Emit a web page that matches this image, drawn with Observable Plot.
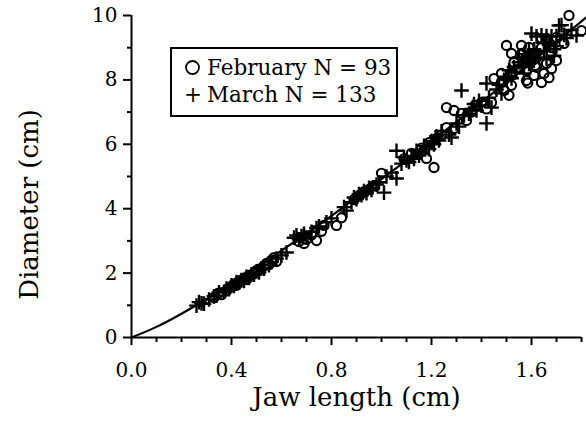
<!DOCTYPE html>
<html>
<head>
<meta charset="utf-8">
<script src="https://cdn.jsdelivr.net/npm/d3@7"></script>
<script src="https://cdn.jsdelivr.net/npm/@observablehq/plot@0.6"></script>
<style>
  html, body { margin: 0; padding: 0; background: #fff; }
  #wrap { position: relative; width: 586px; height: 422px; font-family: "DejaVu Serif", serif; }
  #legend { position: absolute; left: 170px; top: 47px; width: 224px; height: 61px; border: 2px solid #000; background: #fff; font-size: 21.5px; line-height: 27px; padding-top: 5px; box-sizing: content-box; }
  #legend .row { white-space: nowrap; padding-left: 12px; }
  #legend .sym { display: inline-block; width: 23px; }
  #legend svg { vertical-align: -1px; }
</style>
</head>
<body>
<div id="wrap"><div id="legend"></div></div>
<script>
// Curve
const curveX = [0, 0.1, 0.2, 0.3, 0.4, 0.5, 0.6, 0.7, 0.8, 0.9, 1.0, 1.1, 1.2, 1.3, 1.4, 1.5, 1.6, 1.7, 1.8, 1.82];
const curveY = [0, 0.33, 0.74, 1.19, 1.67, 2.18, 2.70, 3.23, 3.78, 4.35, 4.92, 5.50, 6.10, 6.70, 7.31, 7.93, 8.55, 9.18, 9.82, 9.95];

// February (circles), N = 93
const febX = [0.33,0.35,0.36,0.38,0.40,0.41,0.42,0.43,0.45,0.46,0.47,0.49,0.50,0.51,0.53,0.54,0.55,0.57,0.58,0.56,
  0.67,0.69,0.70,0.72,0.74,0.76,0.77,0.82,0.84,
  0.89,0.91,0.93,0.95,0.97,1.00,
  1.09,1.12,1.14,1.16,1.18,1.21,1.19,1.22,1.24,
  1.26,1.29,1.32,1.34,1.29,1.26,1.38,1.40,1.44,1.42,1.36,
  1.45,1.48,1.48,1.52,1.51,1.52,1.49,1.50,1.52,1.53,1.52,
  1.56,1.59,1.56,1.58,1.57,1.60,1.58,1.61,1.58,1.62,1.585,
  1.64,1.66,1.70,1.64,1.68,1.73,1.68,1.70,1.68,1.66,1.67,1.64,1.65,1.615,1.75,1.80];
const febY = [1.24,1.38,1.33,1.45,1.58,1.66,1.62,1.75,1.84,1.80,1.93,2.00,2.08,2.12,2.22,2.30,2.27,2.48,2.36,2.40,
  2.98,2.92,3.05,3.18,3.01,3.30,3.48,3.48,3.72,
  4.28,4.40,4.52,4.60,4.72,5.10,
  5.55,5.72,5.70,5.88,5.56,5.28,6.05,6.18,6.30,
  7.14,7.05,6.96,6.74,6.49,6.52,7.20,7.30,7.30,7.10,7.00,
  8.04,8.20,7.92,8.14,7.52,7.83,7.67,9.07,8.82,8.54,8.23,
  9.07,9.01,8.82,8.70,8.51,8.60,8.29,8.14,7.98,8.39,7.90,
  9.29,9.29,9.32,9.00,9.00,9.13,8.82,8.60,8.35,8.51,8.07,7.92,8.20,8.45,10.0,9.53];

// March (plus), N = 133
const marX = [0.26,0.28,0.27,0.29,0.31,0.33,0.34,0.35,0.37,0.38,0.39,0.40,0.41,0.42,0.43,0.44,0.45,0.46,0.47,0.48,0.49,0.50,0.51,0.52,0.53,0.55,0.56,0.58,0.60,0.62,
  0.65,0.66,0.67,0.68,0.69,0.70,0.72,0.74,0.75,0.78,0.80,0.86,0.85,
  0.88,0.89,0.90,0.91,0.92,0.93,0.94,0.95,0.96,0.98,0.99,1.01,1.02,1.04,1.06,1.06,
  1.08,1.09,1.10,1.11,1.12,1.13,1.14,1.15,1.16,1.17,1.18,1.19,1.20,1.21,1.22,1.23,1.24,
  1.27,1.28,1.30,1.31,1.32,1.33,1.35,1.36,1.37,1.38,1.39,1.40,1.42,1.42,1.43,1.44,
  1.46,1.47,1.48,1.49,1.50,1.51,1.52,1.53,1.54,1.55,1.55,1.56,1.57,1.58,1.59,1.59,1.60,1.60,1.57,1.61,
  1.62,1.64,1.66,1.68,1.70,1.62,1.63,1.65,1.66,1.67,1.69,1.70,1.71,1.72,1.73,1.74,1.76,1.78,1.69,1.65,1.61];
const marY = [0.99,1.06,1.10,1.05,1.18,1.28,1.30,1.40,1.42,1.52,1.50,1.62,1.60,1.72,1.70,1.78,1.76,1.88,1.85,1.96,1.95,2.05,2.02,2.15,2.14,2.25,2.35,2.45,2.55,2.64,
  3.10,3.17,3.05,3.15,3.22,3.10,3.28,3.40,3.45,3.58,3.70,3.94,4.05,
  4.20,4.35,4.30,4.45,4.42,4.55,4.48,4.65,4.58,4.75,4.82,4.50,5.00,5.12,4.94,5.80,
  5.40,5.60,5.50,5.45,5.62,5.55,5.80,5.65,5.75,5.95,5.90,5.85,6.10,6.00,6.25,6.12,6.40,
  6.30,6.21,6.65,6.55,7.67,6.90,6.95,7.10,7.25,7.05,7.35,7.20,6.65,7.89,7.45,7.14,
  7.70,7.85,7.58,8.00,8.10,8.30,8.05,8.40,8.25,8.55,8.70,8.45,8.80,8.60,8.90,8.50,9.44,8.75,8.20,8.95,
  9.35,9.38,9.36,9.35,9.36,8.85,8.70,8.90,8.65,9.10,8.95,9.05,9.69,9.70,9.40,9.30,9.55,9.38,8.75,9.15,8.60];

const xMajor = [0, 0.4, 0.8, 1.2, 1.6];
const xMinor = [0.1,0.2,0.3,0.5,0.6,0.7,0.9,1.0,1.1,1.3,1.4,1.5,1.7,1.8];
const yMajor = [0, 2, 4, 6, 8, 10];
const yMinor = [1, 3, 5, 7, 9];
const legendLabels = ["February N = 93", "March N = 133"];

const curve = curveX.map((x, i) => ({x, y: curveY[i]}));
const feb = febX.map((x, i) => ({x, y: febY[i]}));
const mar = marX.map((x, i) => ({x, y: marY[i]}));

const font = "DejaVu Serif";
const chart = Plot.plot({
  width: 586,
  height: 422,
  marginLeft: 131,
  marginRight: 5,
  marginTop: 15,
  marginBottom: 85,
  style: {fontFamily: font, fontSize: "20px", color: "#000", background: "#fff"},
  x: {domain: [0, 1.8]},
  y: {domain: [0, 10]},
  marks: [
    Plot.axisX({ticks: xMajor, tickSize: 8, tickPadding: 17, tickFormat: d3.format(".1f"), strokeWidth: 2, fontSize: 20,
      label: "Jaw length (cm)", labelAnchor: "center", labelArrow: "none", labelOffset: 68}),
    Plot.axisX({ticks: xMinor, tickSize: 5, tickFormat: () => "", strokeWidth: 2, label: null}),
    Plot.axisY({ticks: yMajor, tickSize: 8, tickPadding: 6, strokeWidth: 2, fontSize: 20,
      label: "Diameter (cm)", labelAnchor: "center", labelArrow: "none", labelOffset: 112}),
    Plot.axisY({ticks: yMinor, tickSize: 4, tickFormat: () => "", strokeWidth: 2, label: null}),
    Plot.ruleY([0], {strokeWidth: 2}),
    Plot.ruleX([0], {strokeWidth: 2}),
    Plot.line(curve, {x: "x", y: "y", curve: "natural", strokeWidth: 2.2}),
    Plot.dot(feb, {x: "x", y: "y", symbol: "circle", r: 4.6, stroke: "#000", strokeWidth: 2.1, fill: "none"}),
    Plot.dot(mar, {x: "x", y: "y", symbol: "plus", r: 4.8, stroke: "#000", strokeWidth: 2.4})
  ]
});
chart.style.overflow = "visible";
const wrap = document.getElementById("wrap");
wrap.insertBefore(chart, wrap.firstChild);
chart.querySelectorAll('[aria-label="x-axis label"] text, [aria-label="y-axis label"] text').forEach(t => {
  t.setAttribute("font-size", "26");
});
// shift the y title lower, as in the reference
chart.querySelectorAll('[aria-label="y-axis label"] text').forEach(t => {
  const tr = t.getAttribute("transform") || "";
  const m = tr.match(/translate\(([-\d.]+),\s*([-\d.]+)\)/);
  if (m) t.setAttribute("transform", tr.replace(m[0], `translate(${m[1]},${+m[2] + 28})`));
});

const legend = document.getElementById("legend");
legend.innerHTML =
  `<div class="row"><span class="sym"><svg width="17" height="17" viewBox="0 0 17 17"><circle cx="8.5" cy="8.5" r="6.5" fill="none" stroke="#000" stroke-width="1.8"/></svg></span>${legendLabels[0]}</div>` +
  `<div class="row"><span class="sym">+</span>${legendLabels[1]}</div>`;
</script>
</body>
</html>
